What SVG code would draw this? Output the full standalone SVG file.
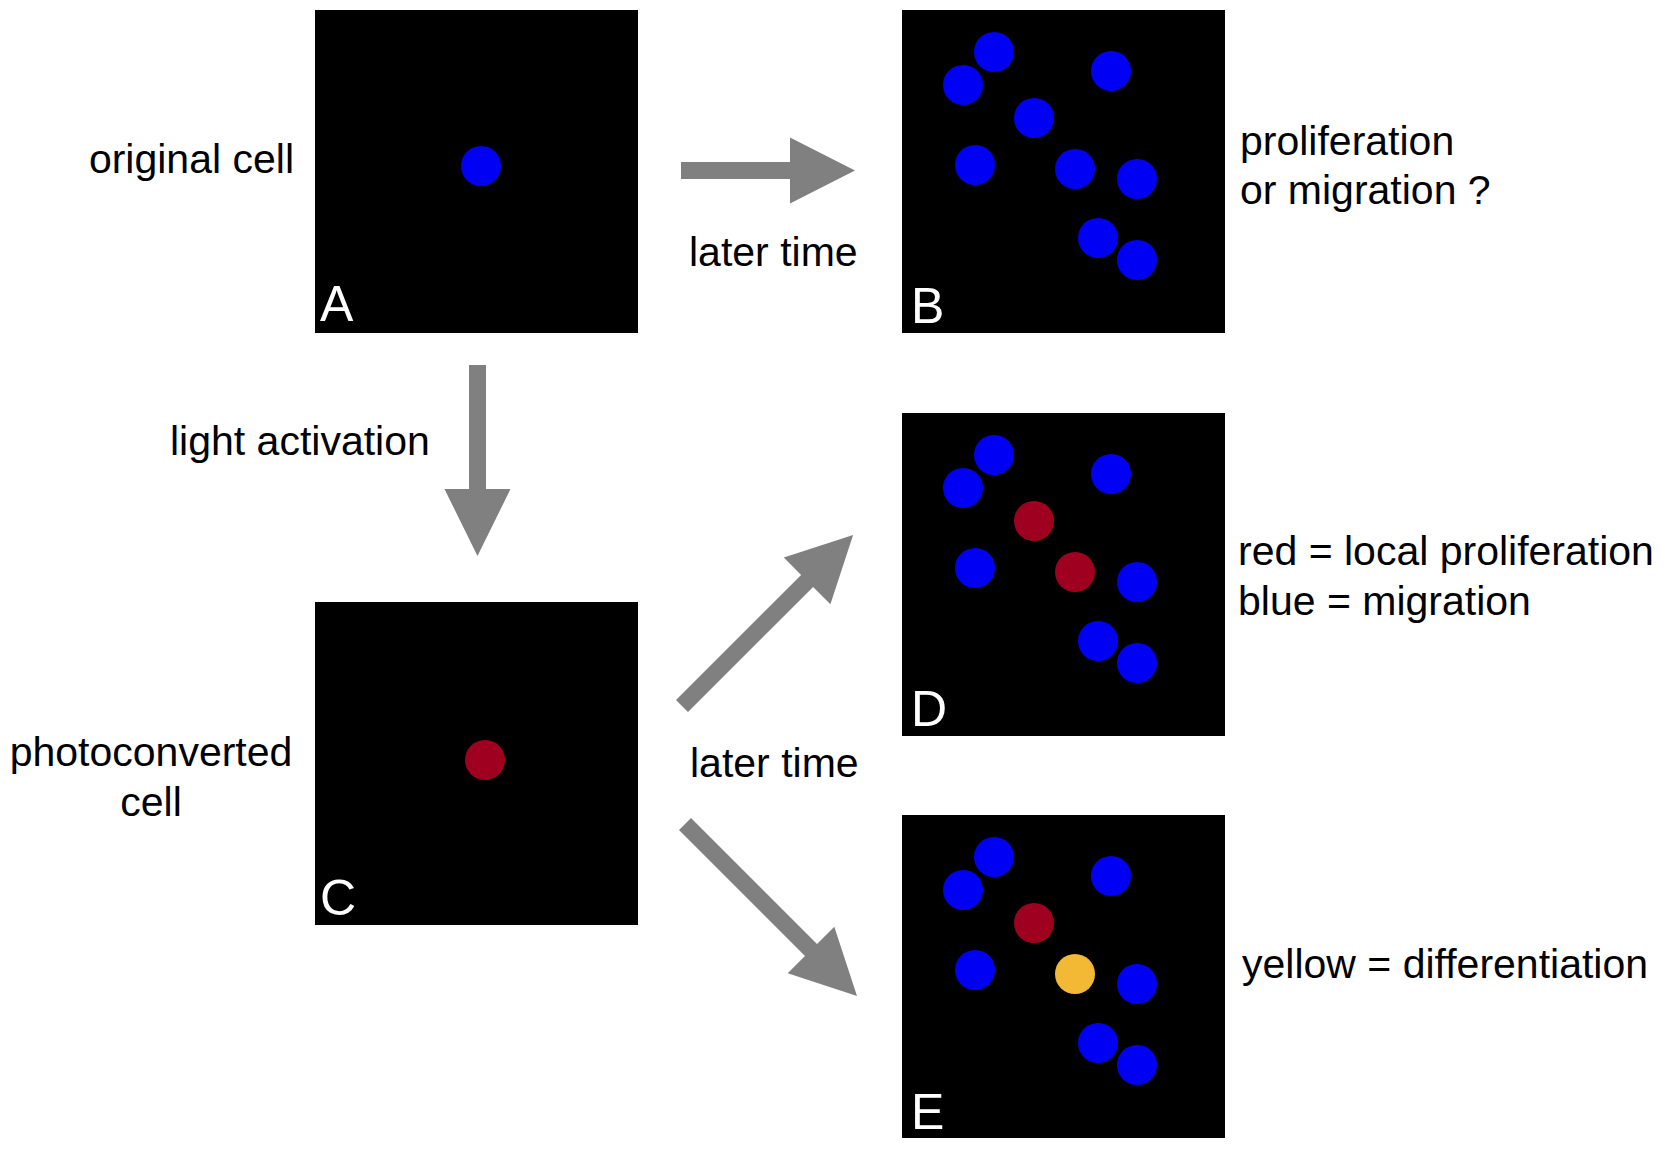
<svg xmlns="http://www.w3.org/2000/svg" width="1669" height="1149" viewBox="0 0 1669 1149">
<style>
text{font-family:"Liberation Sans",Arial,sans-serif;font-size:41px;fill:#000}
.lbl{font-size:50px;fill:#fff}
.box{fill:#000}
.b{fill:#0000F5}
.r{fill:#A00020}
.y{fill:#F4B934}
.arr{fill:#808080}
</style>
<rect width="1669" height="1149" fill="#fff"/>
<g id="A">
<rect class="box" x="315" y="10" width="323" height="323"/>
<circle class="b" cx="481" cy="166" r="20"/>
<text class="lbl" x="320" y="321">A</text>
</g>
<g id="B">
<rect class="box" x="902" y="10" width="323" height="323"/>
<g transform="translate(902,10)">
<circle class="b" cx="92" cy="42" r="20"/><circle class="b" cx="61" cy="75" r="20"/><circle class="b" cx="209" cy="61" r="20"/><circle class="b" cx="132" cy="108" r="20"/><circle class="b" cx="73" cy="155" r="20"/><circle class="b" cx="173" cy="159" r="20"/><circle class="b" cx="235" cy="169" r="20"/><circle class="b" cx="196" cy="228" r="20"/><circle class="b" cx="235" cy="250" r="20"/>
</g>
<text class="lbl" x="911" y="323">B</text>
</g>
<g id="C">
<rect class="box" x="315" y="602" width="323" height="323"/>
<circle class="r" cx="485" cy="760" r="20"/>
<text class="lbl" x="320" y="915">C</text>
</g>
<g id="D">
<rect class="box" x="902" y="413" width="323" height="323"/>
<g transform="translate(902,413)">
<circle class="b" cx="92" cy="42" r="20"/><circle class="b" cx="61" cy="75" r="20"/><circle class="b" cx="209" cy="61" r="20"/><circle class="r" cx="132" cy="108" r="20"/><circle class="b" cx="73" cy="155" r="20"/><circle class="r" cx="173" cy="159" r="20"/><circle class="b" cx="235" cy="169" r="20"/><circle class="b" cx="196" cy="228" r="20"/><circle class="b" cx="235" cy="250" r="20"/>
</g>
<text class="lbl" x="911" y="726">D</text>
</g>
<g id="E">
<rect class="box" x="902" y="815" width="323" height="323"/>
<g transform="translate(902,815)">
<circle class="b" cx="92" cy="42" r="20"/><circle class="b" cx="61" cy="75" r="20"/><circle class="b" cx="209" cy="61" r="20"/><circle class="r" cx="132" cy="108" r="20"/><circle class="b" cx="73" cy="155" r="20"/><circle class="y" cx="173" cy="159" r="20"/><circle class="b" cx="235" cy="169" r="20"/><circle class="b" cx="196" cy="228" r="20"/><circle class="b" cx="235" cy="250" r="20"/>
</g>
<text class="lbl" x="911" y="1129">E</text>
</g>
<g id="connectors">
<polygon class="arr" points="681,162 790,162 790,137.5 855,170.5 790,203.5 790,179 681,179"/>
<polygon class="arr" points="469,365 486,365 486,489 510.5,489 477.5,556 444.5,489 469,489"/>
<polygon class="arr" points="676,700 801.1,574.9 783.8,557.6 853.1,534.9 830.4,604.2 813.1,586.9 688,712"/>
<polygon class="arr" points="691,818 817,944 834.3,926.7 857,996 787.7,973.3 805,956 679,830"/>
</g>
<g id="labels">
<text x="294" y="173" text-anchor="end">original cell</text>
<text x="689" y="266">later time</text>
<text x="1240" y="155">proliferation</text>
<text x="1240" y="204">or migration ?</text>
<text x="170" y="455">light activation</text>
<text x="151" y="766" text-anchor="middle">photoconverted</text>
<text x="151" y="816" text-anchor="middle">cell</text>
<text x="690" y="777">later time</text>
<text x="1238" y="565">red = local proliferation</text>
<text x="1238" y="615">blue = migration</text>
<text x="1242" y="978">yellow = differentiation</text>
</g>
</svg>
